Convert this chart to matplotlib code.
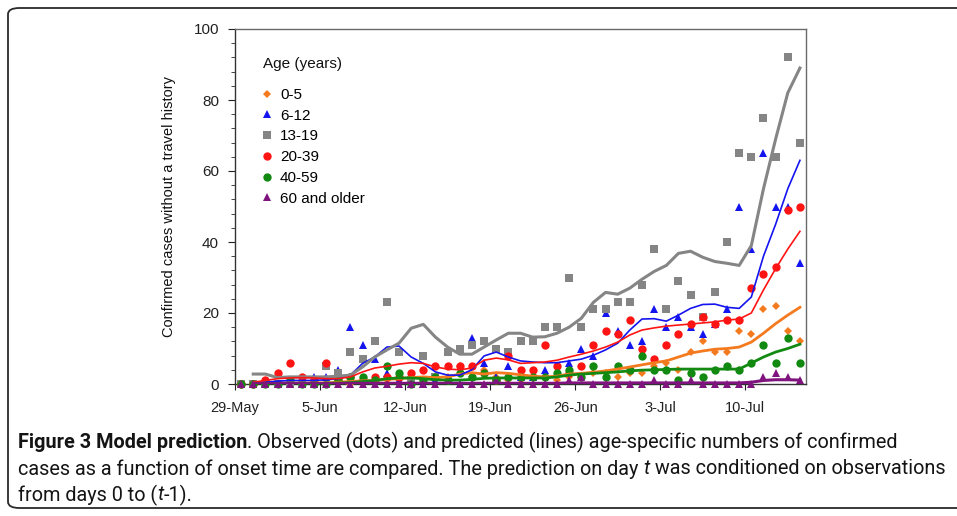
import numpy as np
import matplotlib
matplotlib.use("Agg")
import matplotlib.pyplot as plt
from matplotlib.patches import FancyBboxPatch

# x axis: days since 29-May, ticks weekly
tick_days = [0, 7, 14, 21, 28, 35, 42]
tick_labels = ["29-May", "5-Jun", "12-Jun", "19-Jun", "26-Jun", "3-Jul", "10-Jul"]
groups = ["0-5", "6-12", "13-19", "20-39", "40-59", "60 and older"]

# observed counts, day 0 .. day 46
obs_0_5 = [0, 0, 0, 0, 0, 0, 0, 0, 1, 0, 1, 1, 1, 1, 1, 1, 2, 2, 5, 2,
           4, 2, 1, 1, 2, 2, 1, 2, 2, 3, 3, 2, 3, 3, 5, 6, 4, 9, 12, 9,
           9, 15, 14, 21, 22, 15, 12]
obs_6_12 = [0, 0, 0, 0, 0, 0, 2, 2, 4, 16, 11, 7, 3, 1, 0, 0, 1, 1, 0, 13,
            6, 2, 5, 2, 2, 4, 3, 6, 10, 8, 20, 15, 11, 12, 21, 16, 19, 16, 14, 17,
            21, 50, 38, 65, 50, 50, 34]
obs_13_19 = [0, 0, 0, 0, 0, 0, 0, 5, 3, 9, 7, 12, 23, 9, 1, 8, 2, 9, 10, 11,
             12, 10, 9, 12, 12, 16, 16, 30, 16, 21, 21, 23, 23, 28, 38, 21, 29, 25, 19, 26,
             40, 65, 64, 75, 64, 92, 68]
obs_20_39 = [0, 0, 1, 3, 6, 2, 1, 6, 1, 2, 1, 2, 2, 2, 3, 4, 5, 5, 5, 5,
             3, 1, 8, 4, 4, 11, 5, 3, 5, 11, 15, 14, 18, 10, 7, 11, 14, 17, 19, 17,
             18, 18, 27, 31, 33, 49, 50]
obs_40_59 = [0, 0, 0, 0, 1, 0, 0, 0, 1, 2, 2, 1, 5, 3, 0, 1, 2, 1, 3, 2,
             3, 1, 2, 2, 2, 2, 3, 4, 2, 5, 2, 5, 4, 8, 4, 4, 1, 3, 2, 4,
             5, 4, 6, 11, 6, 13, 6]
obs_60 = [0, 0, 0, 0, 0, 0, 0, 0, 0, 0, 0, 0, 0, 0, 0, 0, 0, 1, 0, 0,
          0, 1, 0, 0, 0, 0, 0, 1, 2, 0, 0, 0, 0, 0, 1, 0, 0, 1, 0, 0,
          0, 0, 0, 2, 3, 2, 1]

# predicted counts, day 1 .. day 46
pred_0_5 = [0.2, 0.3, 0.3, 0.3, 0.3, 0.3, 0.3, 0.5, 0.7, 0.9, 1, 1.3, 1.5, 1.8, 2, 1.8,
            2, 2.8, 3.2, 2.8, 3.2, 3, 2.6, 2.2, 2, 2.2, 2.8, 3, 3.3, 3.7, 4.2, 4.8,
            5.4, 6, 6.5, 7.6, 8.7, 9.3, 9.8, 10, 10.4, 11.8, 14.3, 17, 19.4, 21.6]
pred_6_12 = [0.5, 0.5, 0.8, 1, 1, 1, 1.2, 1.5, 2.5, 5.8, 7.6, 10.4, 10.7, 7.6, 5.8, 3.4,
             2.5, 2.5, 4, 7.9, 9, 7.6, 6.5, 6.2, 6, 6, 6.5, 7, 8.1, 9.6, 11.5, 15.2,
             18.3, 18.4, 17.7, 19.4, 21.3, 22.4, 22.5, 21.6, 21.3, 24.5, 36, 45, 55, 63]
pred_13_19 = [2.8, 2.8, 1.8, 2, 2, 2, 2, 2.2, 2.5, 4.8, 7.6, 9.6, 11.5, 15.7, 16.8, 13.2,
              10.4, 8.4, 8.4, 10.4, 12.4, 14.3, 14.3, 13.2, 13.3, 14.3, 16, 18.5, 23, 25.8, 25.3, 27,
              29.5, 31.7, 33.4, 36.8, 37.4, 35.7, 34.5, 34, 33.4, 39, 55, 69, 82, 89]
pred_20_39 = [0.5, 1, 1.5, 1.7, 1.8, 1.7, 1.5, 1.5, 2, 3.4, 4.5, 5, 5.6, 6, 5.8, 4.8,
              4.2, 4, 4.5, 6.7, 7.3, 6.8, 5.8, 6, 6.2, 6.7, 7.6, 8.4, 9.3, 10.4, 11.8, 13.8,
              15.2, 15.8, 16.3, 16.6, 16.9, 17.2, 17.5, 18, 18.3, 20, 26.5, 32.5, 38, 43]
pred_40_59 = [0.1, 0.1, 0.1, 0.1, 0.1, 0.2, 0.2, 0.3, 0.4, 0.7, 1, 1.5, 1.7, 1.7, 1.5, 1.2,
              1.1, 1.1, 1.3, 1.6, 1.7, 1.7, 1.7, 1.7, 1.7, 2, 2.5, 2.8, 3, 3.2, 3.4, 3.7,
              3.9, 4, 4.1, 4.2, 4.2, 4.2, 4.2, 4.2, 4.2, 5.9, 7.6, 9, 10, 11.2]
pred_60 = [0.1, 0.1, 0.1, 0.1, 0.1, 0.1, 0.1, 0.1, 0.2, 0.2, 0.2, 0.2, 0.2, 0.2, 0.2, 0.2,
           0.2, 0.2, 0.2, 0.2, 0.2, 0.2, 0.2, 0.2, 0.2, 0.2, 0.3, 0.3, 0.3, 0.3, 0.3, 0.3,
           0.3, 0.3, 0.3, 0.3, 0.3, 0.3, 0.3, 0.3, 0.3, 0.5, 1, 1.2, 1.2, 1.1]

observed = [obs_0_5, obs_6_12, obs_13_19, obs_20_39, obs_40_59, obs_60]
predicted = [pred_0_5, pred_6_12, pred_13_19, pred_20_39, pred_40_59, pred_60]

colors = ["#f47a20", "#1414f0", "#858585", "#ff1414", "#128a12", "#80147f"]
markers = ["D", "^", "s", "o", "o", "^"]
msizes = [4.2, 6.2, 6.3, 6.0, 6.0, 5.6]
lwidths = [2.0, 1.2, 2.2, 1.2, 2.0, 2.2]

W, H = 957, 516
fig = plt.figure(figsize=(W / 100, H / 100), dpi=100)
plt.rcParams['font.family'] = ['Liberation Sans', 'DejaVu Sans']

# rounded frame around figure + caption
frame = FancyBboxPatch((8 / W, 8 / H), 1.2, 1 - 16 / H,
                       boxstyle="round,pad=0,rounding_size=0.012",
                       transform=fig.transFigure, fill=False,
                       edgecolor="#2a2a2a", linewidth=1.3, clip_on=False)
fig.patches.append(frame)

ax = fig.add_axes([235 / W, 1 - 384 / H, 571 / W, 355 / H])

for obs, c, m, ms, name in zip(observed, colors, markers, msizes, groups):
    x = np.arange(len(obs)) + 0.5
    ax.plot(x, obs, linestyle="none", marker=m, markersize=ms, color=c,
            markeredgewidth=0, label=name, zorder=3, clip_on=False)

for pred, c, lw in zip(predicted, colors, lwidths):
    x = np.arange(1, len(pred) + 1) + 0.5
    ax.plot(x, pred, color=c, linewidth=lw, zorder=4, solid_joinstyle="round")

ax.set_xlim(0, 47)
ax.set_ylim(0, 100)
ax.set_xticks(tick_days)
ax.set_xticklabels(tick_labels)
ax.set_yticks(np.arange(0, 101, 20))
ax.set_yticks(np.arange(0, 101, 4), minor=True)
ax.tick_params(axis="y", which="major", length=5, width=0.8, pad=6.5,
               labelsize=11, colors="#222222")
ax.tick_params(axis="y", which="minor", length=3, width=0.7, color="#444444")
ax.tick_params(axis="x", which="major", length=4, width=0.8, pad=8,
               labelsize=10.5, colors="#222222")
for side in ["top", "right"]:
    ax.spines[side].set_color("#6a6a6a")
    ax.spines[side].set_linewidth(1.0)
for side in ["left", "bottom"]:
    ax.spines[side].set_color("#333333")
    ax.spines[side].set_linewidth(1.0)

ax.set_ylabel("Confirmed cases without a travel history", fontsize=10.5, color="#111111")
ax.yaxis.set_label_coords(-0.103, 0.5)

ax.text((263 - 235) / 571, (384 - 64) / 355, "Age (years)", transform=ax.transAxes,
        fontsize=11, va="center", ha="left", color="#111111")
ax.legend(loc="upper left", bbox_to_anchor=((261 - 235) / 571, (384 - 88) / 355),
          frameon=False, fontsize=11, handlelength=0.8, handletextpad=0.45,
          labelspacing=0.44, borderpad=0, borderaxespad=0, numpoints=1)

# caption
cap_font = ["Roboto", "DejaVu Sans"]
lines = [
    [("Figure 3 Model prediction", "bold", "normal"),
     (". Observed (dots) and predicted (lines) age-specific numbers of confirmed", "normal", "normal")],
    [("cases as a function of onset time are compared. The prediction on day ", "normal", "normal"),
     ("t", "normal", "italic"),
     (" was conditioned on observations", "normal", "normal")],
    [("from days 0 to (", "normal", "normal"), ("t", "normal", "italic"), ("-1).", "normal", "normal")],
]
line_y = [442, 469, 495]
renderer = fig.canvas.get_renderer()


def draw_line(pieces, y, size, keep=True):
    x = 18.0
    made = []
    for s, wt, st in pieces:
        t = fig.text(x / W, 1 - y / H, s, fontsize=size, fontweight=wt, fontstyle=st,
                     family=cap_font, va="center", ha="left", color="#141414")
        x = t.get_window_extent(renderer).x1
        made.append(t)
    if not keep:
        for t in made:
            t.remove()
    return x - 18.0


widest = max(draw_line(p, y, 12, keep=False) for p, y in zip(lines[:2], line_y[:2]))
cap_size = 12 * 930.0 / widest
for pieces, y in zip(lines, line_y):
    draw_line(pieces, y, cap_size)

fig.savefig("out.png", dpi=100)
